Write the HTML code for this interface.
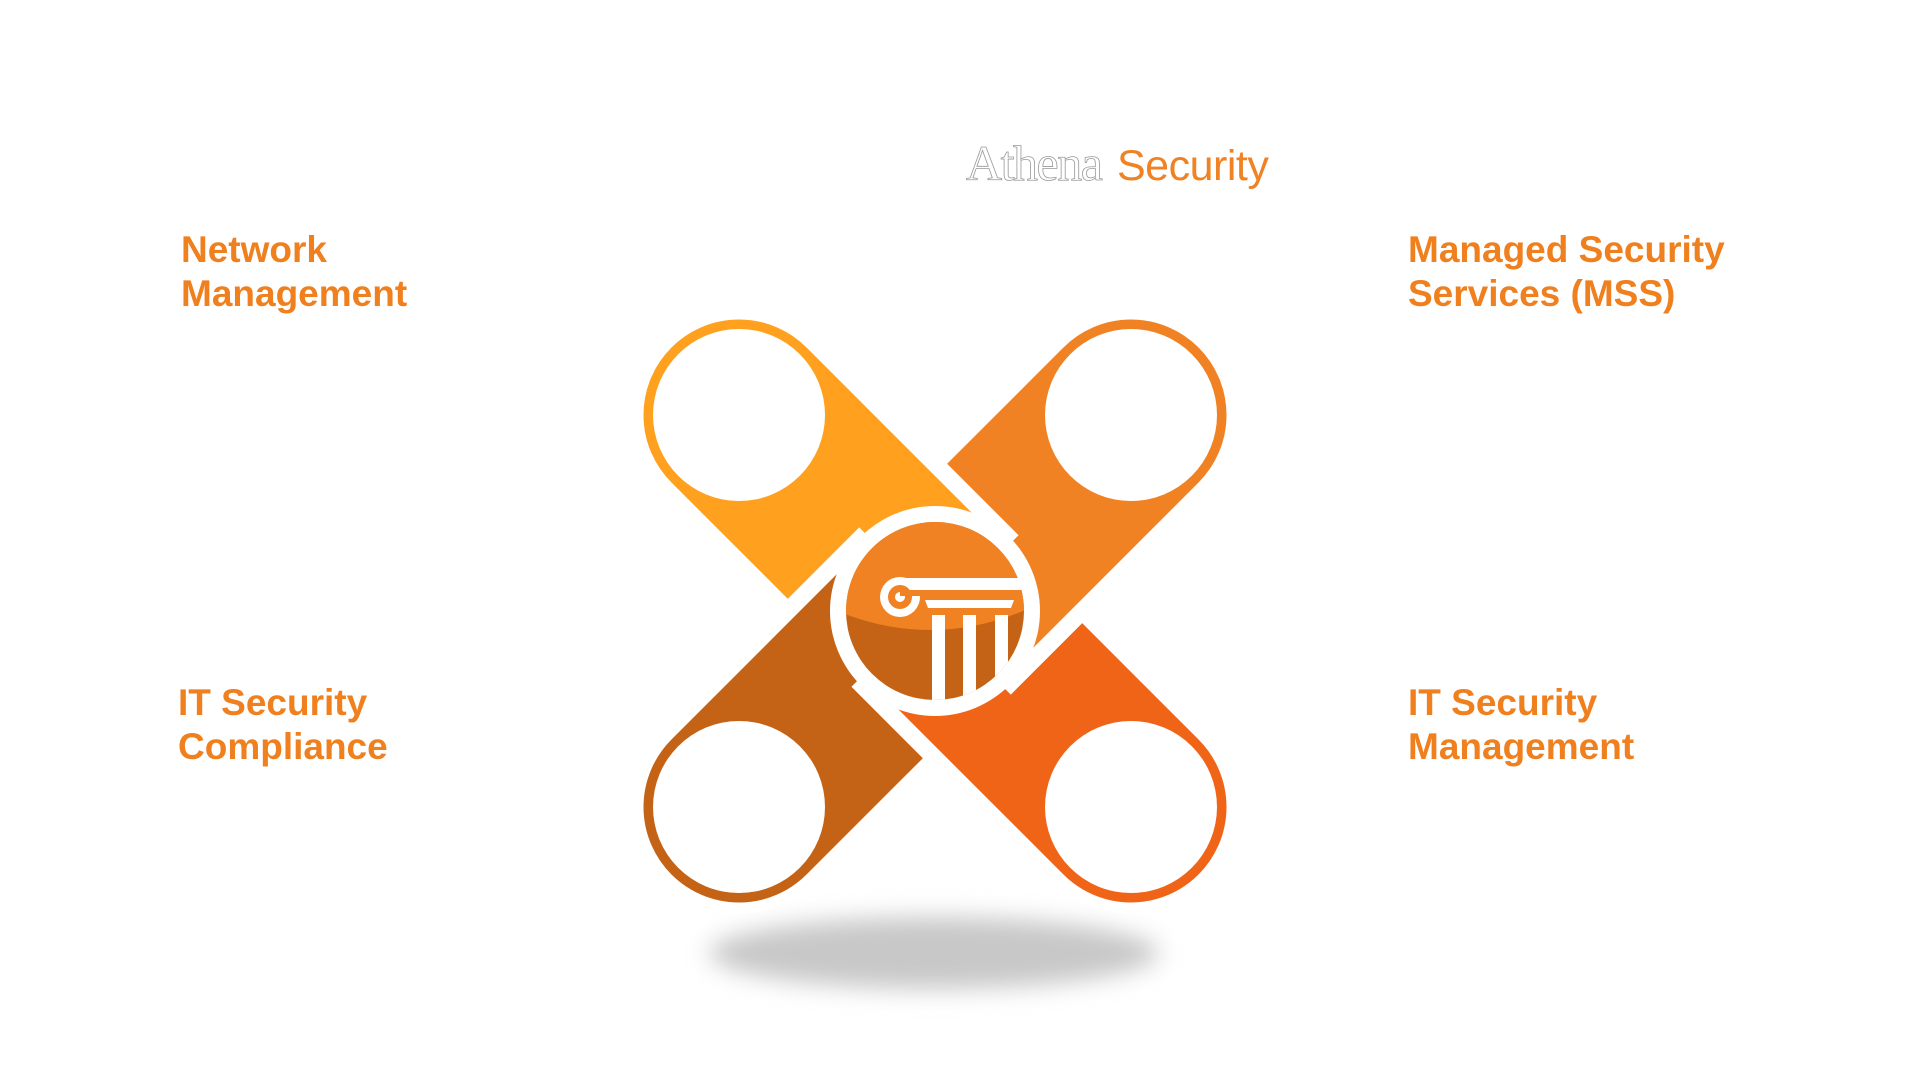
<!DOCTYPE html>
<html><head><meta charset="utf-8"><style>
html,body{margin:0;padding:0;background:#fff;}
svg{display:block;}
</style></head><body>
<svg width="1920" height="1080" viewBox="0 0 1920 1080" xmlns="http://www.w3.org/2000/svg">
<defs>
<filter id="blur" x="-50%" y="-50%" width="200%" height="200%"><feGaussianBlur stdDeviation="12"/></filter>
<clipPath id="disk"><circle cx="935" cy="611" r="89"/></clipPath>
</defs>
<rect width="1920" height="1080" fill="#fff"/>
<ellipse cx="934" cy="953" rx="225" ry="36" fill="#c8c8c8" filter="url(#blur)"/>

<g stroke="#fff" stroke-width="11" stroke-linejoin="miter">
<path transform="translate(739,415) rotate(45)" fill="#FFA01E" d="M0,-101 L272,-101 L272,0 L170,0 L170,101 L0,101 A101,101 0 0 1 0,-101 Z"/>
<path transform="translate(1131,415) rotate(135)" fill="#F08224" d="M0,-101 L272,-101 L272,0 L170,0 L170,101 L0,101 A101,101 0 0 1 0,-101 Z"/>
<path transform="translate(1131,807) rotate(225)" fill="#F06418" d="M0,-101 L272,-101 L272,0 L170,0 L170,101 L0,101 A101,101 0 0 1 0,-101 Z"/>
<path transform="translate(739,807) rotate(315)" fill="#C46316" d="M0,-101 L272,-101 L272,0 L170,0 L170,101 L0,101 A101,101 0 0 1 0,-101 Z"/>
</g>
<g fill="#fff">
<circle cx="739" cy="415" r="86"/>
<circle cx="1131" cy="415" r="86"/>
<circle cx="739" cy="807" r="86"/>
<circle cx="1131" cy="807" r="86"/>
<circle cx="935" cy="611" r="105"/>
</g>
<g clip-path="url(#disk)">
<rect x="840" y="510" width="200" height="210" fill="#C46316"/>
<path d="M840,510 L1030,510 L1030,608 Q935,650 840,612 Z" fill="#F08224"/>
<g fill="#fff">
<rect x="932" y="615" width="13" height="120"/>
<rect x="963" y="615" width="13" height="120"/>
<rect x="995" y="615" width="13" height="120"/>
</g>
</g>
<g fill="#fff">
<path d="M900,578 L1023,578 L1023,590 L900,590 Z"/>
<circle cx="900" cy="597" r="20"/>
<path d="M925,600 L1014,600 L1011,608 L928,608 Z"/>
</g>
<circle cx="900" cy="597" r="12" fill="#F08224"/>
<circle cx="900" cy="597" r="5" fill="#fff"/>
<rect x="900" y="590" width="22" height="6" fill="#F08224"/>

<text x="966" y="180" font-family="Liberation Serif, serif" font-size="50" fill="#fff" stroke="#999" stroke-width="0.8" letter-spacing="-1.5">Athena</text>
<text x="1117" y="180" font-family="Liberation Sans, sans-serif" font-size="43" fill="#F08224" letter-spacing="-0.5">Security</text>

<g font-family="Liberation Sans, sans-serif" font-weight="bold" font-size="37" fill="#F07F1E">
<text x="181" y="262">Network</text>
<text x="181" y="306">Management</text>
<text x="1408" y="262">Managed Security</text>
<text x="1408" y="306">Services (MSS)</text>
<text x="178" y="715">IT Security</text>
<text x="178" y="759">Compliance</text>
<text x="1408" y="715">IT Security</text>
<text x="1408" y="759">Management</text>
</g>
</svg>
</body></html>
